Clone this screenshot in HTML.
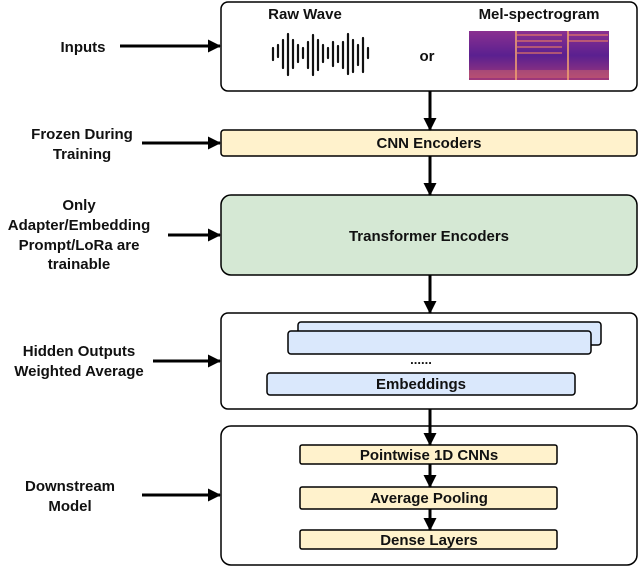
<!DOCTYPE html>
<html><head><style>body{margin:0;background:#fff}svg{display:block}text{font-family:"Liberation Sans",sans-serif;font-weight:bold;fill:#111}</style></head>
<body>
<svg width="640" height="567" viewBox="0 0 640 567" xmlns="http://www.w3.org/2000/svg">
<defs>
<marker id="b" markerWidth="13" markerHeight="13" refX="12" refY="6.5" orient="auto" markerUnits="userSpaceOnUse"><path d="M0,0 L13,6.5 L0,13 Z" fill="#000"/></marker>
<linearGradient id="sp" x1="0" y1="0" x2="0" y2="1"><stop offset="0" stop-color="#8a3090"/><stop offset="0.5" stop-color="#5a2090"/><stop offset="1" stop-color="#a0387a"/></linearGradient>
</defs>
<g stroke="#000" stroke-width="1.5">
<rect x="221" y="2" width="416" height="89" rx="7" fill="#fff"/>
<rect x="221" y="130" width="416" height="26" rx="3" fill="#fff2cc"/>
<rect x="221" y="195" width="416" height="80" rx="10" fill="#d5e8d4"/>
<rect x="221" y="313" width="416" height="96" rx="7" fill="#fff"/>
<rect x="298" y="322" width="303" height="23" rx="3" fill="#dae8fc"/>
<rect x="288" y="331" width="303" height="23" rx="3" fill="#dae8fc"/>
<rect x="267" y="373" width="308" height="22" rx="3" fill="#dae8fc"/>
<rect x="221" y="426" width="416" height="139" rx="10" fill="#fff"/>
<rect x="300" y="445" width="257" height="19" rx="2" fill="#fff2cc"/>
<rect x="300" y="487" width="257" height="22" rx="2" fill="#fff2cc"/>
<rect x="300" y="530" width="257" height="19" rx="2" fill="#fff2cc"/>
</g>
<g stroke="#000" stroke-width="3" fill="none">
<line x1="430" y1="91" x2="430" y2="130" marker-end="url(#b)"/>
<line x1="430" y1="156" x2="430" y2="195" marker-end="url(#b)"/>
<line x1="430" y1="275" x2="430" y2="313" marker-end="url(#b)"/>
<line x1="430" y1="409" x2="430" y2="445" marker-end="url(#b)"/>
<line x1="430" y1="464" x2="430" y2="487" marker-end="url(#b)"/>
<line x1="430" y1="509" x2="430" y2="530" marker-end="url(#b)"/>
<line x1="120" y1="46" x2="220" y2="46" marker-end="url(#b)"/>
<line x1="142" y1="143" x2="220" y2="143" marker-end="url(#b)"/>
<line x1="168" y1="235" x2="220" y2="235" marker-end="url(#b)"/>
<line x1="153" y1="361" x2="220" y2="361" marker-end="url(#b)"/>
<line x1="142" y1="495" x2="220" y2="495" marker-end="url(#b)"/>
</g>
<g stroke="#111" stroke-width="2.2" stroke-linecap="round">
<line x1="273" y1="48" x2="273" y2="60"/><line x1="278" y1="45" x2="278" y2="57"/><line x1="283" y1="40" x2="283" y2="68"/><line x1="288" y1="34" x2="288" y2="75"/><line x1="293" y1="40" x2="293" y2="68"/><line x1="298" y1="45" x2="298" y2="62"/><line x1="303" y1="48" x2="303" y2="58"/><line x1="308" y1="42" x2="308" y2="68"/><line x1="313" y1="35" x2="313" y2="75"/><line x1="318" y1="40" x2="318" y2="70"/><line x1="323" y1="45" x2="323" y2="62"/><line x1="328" y1="48" x2="328" y2="58"/><line x1="333" y1="42" x2="333" y2="66"/><line x1="338" y1="46" x2="338" y2="62"/><line x1="343" y1="42" x2="343" y2="68"/><line x1="348" y1="34" x2="348" y2="74"/><line x1="353" y1="40" x2="353" y2="72"/><line x1="358" y1="45" x2="358" y2="65"/><line x1="363" y1="38" x2="363" y2="72"/><line x1="368" y1="48" x2="368" y2="58"/>
</g>
<rect x="469" y="31" width="140" height="49" fill="url(#sp)"/>
<g fill="#f08060" opacity=".55">
<rect x="517" y="34" width="45" height="2"/><rect x="517" y="40" width="45" height="2"/><rect x="517" y="46" width="45" height="2"/><rect x="517" y="52" width="45" height="2"/>
<rect x="568" y="34" width="40" height="2"/><rect x="568" y="40" width="40" height="2"/>
<rect x="469" y="70" width="140" height="8" opacity=".6"/>
</g>
<rect x="515" y="31" width="2" height="49" fill="#f0a070" opacity=".8"/>
<rect x="567" y="31" width="2" height="49" fill="#f0a070" opacity=".8"/>
<text x="305" y="19" font-size="15" text-anchor="middle">Raw Wave</text>
<text x="539" y="19" font-size="15" text-anchor="middle">Mel-spectrogram</text>
<text x="427" y="61" font-size="15" text-anchor="middle">or</text>
<text x="429" y="148" font-size="15" text-anchor="middle">CNN Encoders</text>
<text x="429" y="241" font-size="15" text-anchor="middle">Transformer Encoders</text>
<text x="421" y="364" font-size="13" text-anchor="middle">......</text>
<text x="421" y="389" font-size="15" text-anchor="middle">Embeddings</text>
<text x="429" y="460" font-size="15" text-anchor="middle">Pointwise 1D CNNs</text>
<text x="429" y="503" font-size="15" text-anchor="middle">Average Pooling</text>
<text x="429" y="545" font-size="15" text-anchor="middle">Dense Layers</text>
<g font-size="15" text-anchor="middle">
<text x="83" y="52">Inputs</text>
<text x="82" y="139">Frozen During</text><text x="82" y="159">Training</text>
<text x="79" y="210">Only</text><text x="79" y="230">Adapter/Embedding</text><text x="79" y="250">Prompt/LoRa are</text><text x="79" y="269">trainable</text>
<text x="79" y="356">Hidden Outputs</text><text x="79" y="376">Weighted Average</text>
<text x="70" y="491">Downstream</text><text x="70" y="511">Model</text>
</g>
</svg>
</body></html>
